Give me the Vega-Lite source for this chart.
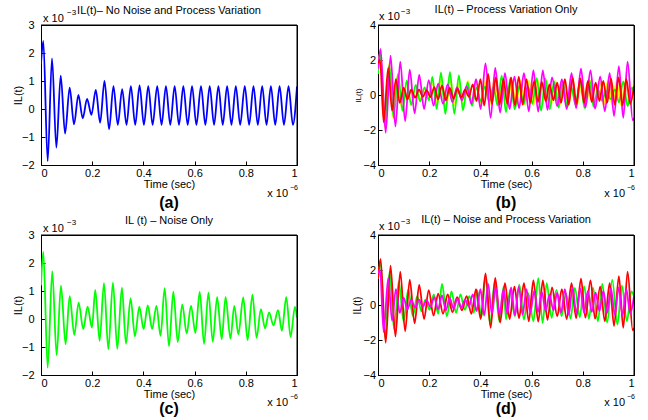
{
"$schema":"https://vega.github.io/schema/vega-lite/v6.json",
"background":"white",
"padding":{"left":11,"top":3,"right":4,"bottom":4},
"config":{
 "font":"Liberation Sans",
 "view":{"stroke":"black","strokeWidth":1},
 "axis":{"grid":false,"labelFont":"Liberation Sans","labelFontSize":11,"labelColor":"black","titleFont":"Liberation Sans","titleFontSize":11,"titleFontWeight":"normal","titleColor":"black","tickColor":"black","tickSize":-4,"tickWidth":1,"domainColor":"black","labelPadding":6,"titlePadding":0,"format":"~g"},
 "title":{"font":"Liberation Sans","fontSize":11,"fontWeight":"normal","color":"black","anchor":"middle","frame":"group","offset":-7},
 "text":{"font":"Liberation Sans","color":"black"}
},
"datasets":{
 "a":[{"t":0,"y":1.6},{"t":0.009,"y":2.43},{"t":0.026,"y":-1.86},{"t":0.043,"y":1.81},{"t":0.06,"y":-1.38},{"t":0.077,"y":1.19},{"t":0.094,"y":-0.88},{"t":0.112,"y":0.76},{"t":0.129,"y":-0.55},{"t":0.146,"y":0.5},{"t":0.163,"y":-0.33},{"t":0.18,"y":0.36},{"t":0.197,"y":-0.21},{"t":0.214,"y":0.68},{"t":0.231,"y":-0.49},{"t":0.248,"y":1.0},{"t":0.266,"y":-0.72},{"t":0.283,"y":0.82},{"t":0.3,"y":-0.57},{"t":0.317,"y":0.71},{"t":0.334,"y":-0.57},{"t":0.351,"y":0.82},{"t":0.368,"y":-0.57},{"t":0.385,"y":0.84},{"t":0.402,"y":-0.57},{"t":0.419,"y":0.82},{"t":0.436,"y":-0.57},{"t":0.454,"y":0.82},{"t":0.471,"y":-0.57},{"t":0.488,"y":0.82},{"t":0.505,"y":-0.57},{"t":0.522,"y":0.82},{"t":0.539,"y":-0.57},{"t":0.556,"y":0.82},{"t":0.573,"y":-0.57},{"t":0.59,"y":0.82},{"t":0.607,"y":-0.57},{"t":0.625,"y":0.82},{"t":0.642,"y":-0.57},{"t":0.659,"y":0.82},{"t":0.676,"y":-0.57},{"t":0.693,"y":0.82},{"t":0.71,"y":-0.57},{"t":0.727,"y":0.82},{"t":0.744,"y":-0.57},{"t":0.761,"y":0.82},{"t":0.778,"y":-0.57},{"t":0.796,"y":0.82},{"t":0.813,"y":-0.57},{"t":0.83,"y":0.82},{"t":0.847,"y":-0.57},{"t":0.864,"y":0.82},{"t":0.881,"y":-0.57},{"t":0.898,"y":0.82},{"t":0.915,"y":-0.57},{"t":0.932,"y":0.82},{"t":0.949,"y":-0.57},{"t":0.967,"y":0.82},{"t":0.984,"y":-0.57},{"t":1.0,"y":0.8}],
 "c":[{"t":0,"y":1.2},{"t":0.009,"y":2.4},{"t":0.026,"y":-1.74},{"t":0.044,"y":1.71},{"t":0.061,"y":-1.29},{"t":0.078,"y":1.19},{"t":0.096,"y":-0.9},{"t":0.112,"y":0.82},{"t":0.13,"y":-0.57},{"t":0.147,"y":0.58},{"t":0.165,"y":-0.36},{"t":0.182,"y":0.44},{"t":0.199,"y":-0.31},{"t":0.212,"y":1.04},{"t":0.229,"y":-0.78},{"t":0.246,"y":1.28},{"t":0.263,"y":-1.08},{"t":0.281,"y":1.3},{"t":0.298,"y":-1.07},{"t":0.316,"y":1.12},{"t":0.332,"y":-0.88},{"t":0.35,"y":0.74},{"t":0.367,"y":-0.62},{"t":0.384,"y":0.44},{"t":0.401,"y":-0.36},{"t":0.417,"y":0.49},{"t":0.434,"y":-0.36},{"t":0.451,"y":0.47},{"t":0.467,"y":-0.6},{"t":0.483,"y":1.1},{"t":0.5,"y":-0.97},{"t":0.517,"y":0.98},{"t":0.534,"y":-0.82},{"t":0.552,"y":0.52},{"t":0.569,"y":-0.52},{"t":0.586,"y":0.48},{"t":0.603,"y":-0.5},{"t":0.62,"y":0.97},{"t":0.637,"y":-0.89},{"t":0.654,"y":0.94},{"t":0.671,"y":-0.82},{"t":0.688,"y":0.78},{"t":0.706,"y":-0.72},{"t":0.721,"y":0.78},{"t":0.74,"y":-0.7},{"t":0.755,"y":0.47},{"t":0.771,"y":-0.55},{"t":0.79,"y":0.77},{"t":0.807,"y":-0.75},{"t":0.826,"y":0.87},{"t":0.842,"y":-0.67},{"t":0.859,"y":0.35},{"t":0.875,"y":-0.33},{"t":0.891,"y":0.24},{"t":0.908,"y":-0.23},{"t":0.926,"y":0.32},{"t":0.941,"y":-0.42},{"t":0.958,"y":0.78},{"t":0.975,"y":-0.64},{"t":0.992,"y":0.43},{"t":1.0,"y":0.05}],
 "sA":[{"t":0,"y":1.5},{"t":0.01,"y":2.63},{"t":0.03,"y":-2.16},{"t":0.049,"y":2.25},{"t":0.068,"y":-1.8},{"t":0.087,"y":1.9},{"t":0.106,"y":-1.5},{"t":0.124,"y":1.45},{"t":0.143,"y":-1.05},{"t":0.161,"y":1.15},{"t":0.18,"y":-0.8},{"t":0.198,"y":0.85},{"t":0.217,"y":-0.6},{"t":0.235,"y":0.65},{"t":0.254,"y":-0.5},{"t":0.272,"y":0.6},{"t":0.291,"y":-0.4},{"t":0.309,"y":0.45},{"t":0.328,"y":-0.3},{"t":0.346,"y":0.5},{"t":0.365,"y":-0.5},{"t":0.383,"y":0.9},{"t":0.401,"y":-0.8},{"t":0.42,"y":1.8},{"t":0.44,"y":-1.3},{"t":0.458,"y":1.55},{"t":0.477,"y":-1.0},{"t":0.496,"y":1.25},{"t":0.514,"y":-0.8},{"t":0.533,"y":1.05},{"t":0.551,"y":-0.75},{"t":0.57,"y":1.25},{"t":0.589,"y":-0.93},{"t":0.607,"y":1.4},{"t":0.626,"y":-0.95},{"t":0.644,"y":1.4},{"t":0.662,"y":-0.85},{"t":0.68,"y":1.0},{"t":0.7,"y":-0.65},{"t":0.718,"y":0.9},{"t":0.737,"y":-0.8},{"t":0.756,"y":1.25},{"t":0.774,"y":-0.75},{"t":0.793,"y":1.5},{"t":0.81,"y":-0.72},{"t":0.83,"y":1.4},{"t":0.848,"y":-0.78},{"t":0.868,"y":1.05},{"t":0.886,"y":-0.93},{"t":0.905,"y":1.25},{"t":0.922,"y":-1.2},{"t":0.941,"y":1.65},{"t":0.958,"y":-1.3},{"t":0.975,"y":1.9},{"t":0.995,"y":-1.45},{"t":1.0,"y":-1.3}],
 "sB":[{"t":0,"y":1.8},{"t":0.008,"y":2.0},{"t":0.022,"y":-1.55},{"t":0.04,"y":1.55},{"t":0.055,"y":-0.9},{"t":0.07,"y":0.9},{"t":0.085,"y":-0.45},{"t":0.1,"y":0.42},{"t":0.115,"y":-0.25},{"t":0.13,"y":0.3},{"t":0.145,"y":-0.15},{"t":0.16,"y":0.3},{"t":0.175,"y":-0.1},{"t":0.19,"y":0.28},{"t":0.205,"y":-0.12},{"t":0.22,"y":0.45},{"t":0.235,"y":-0.25},{"t":0.25,"y":0.55},{"t":0.265,"y":-0.3},{"t":0.28,"y":0.4},{"t":0.295,"y":-0.2},{"t":0.31,"y":0.35},{"t":0.325,"y":-0.15},{"t":0.34,"y":0.3},{"t":0.355,"y":-0.1},{"t":0.37,"y":0.6},{"t":0.385,"y":-0.35},{"t":0.4,"y":0.9},{"t":0.415,"y":-0.6},{"t":0.43,"y":1.2},{"t":0.445,"y":-0.5},{"t":0.46,"y":1.0},{"t":0.475,"y":-0.55},{"t":0.49,"y":0.9},{"t":0.505,"y":-0.5},{"t":0.52,"y":1.0},{"t":0.535,"y":-0.6},{"t":0.55,"y":1.05},{"t":0.565,"y":-0.55},{"t":0.58,"y":0.9},{"t":0.595,"y":-0.45},{"t":0.61,"y":0.8},{"t":0.625,"y":-0.4},{"t":0.64,"y":0.75},{"t":0.655,"y":-0.35},{"t":0.67,"y":0.6},{"t":0.685,"y":-0.3},{"t":0.7,"y":0.7},{"t":0.715,"y":-0.45},{"t":0.73,"y":0.9},{"t":0.745,"y":-0.55},{"t":0.76,"y":1.0},{"t":0.775,"y":-0.5},{"t":0.79,"y":0.95},{"t":0.805,"y":-0.45},{"t":0.82,"y":0.8},{"t":0.835,"y":-0.4},{"t":0.85,"y":0.7},{"t":0.865,"y":-0.35},{"t":0.88,"y":0.8},{"t":0.895,"y":-0.45},{"t":0.91,"y":0.95},{"t":0.925,"y":-0.55},{"t":0.94,"y":1.0},{"t":0.955,"y":-0.6},{"t":0.97,"y":0.9},{"t":0.985,"y":-0.5},{"t":1.0,"y":0.5}],
 "g2":[{"t":0,"y":1.5},{"t":0.01,"y":2.4},{"t":0.028,"y":-1.88},{"t":0.045,"y":1.9},{"t":0.063,"y":-1.4},{"t":0.081,"y":1.35},{"t":0.1,"y":-0.93},{"t":0.118,"y":0.87},{"t":0.136,"y":-0.64},{"t":0.153,"y":0.5},{"t":0.17,"y":-0.36},{"t":0.185,"y":0.3},{"t":0.201,"y":-0.27},{"t":0.218,"y":0.6},{"t":0.235,"y":-0.5},{"t":0.25,"y":1.2},{"t":0.269,"y":-0.64},{"t":0.287,"y":0.78},{"t":0.305,"y":-0.45},{"t":0.322,"y":0.6},{"t":0.339,"y":-0.27},{"t":0.357,"y":0.5},{"t":0.374,"y":-0.45},{"t":0.387,"y":0.87},{"t":0.404,"y":-0.7},{"t":0.42,"y":1.63},{"t":0.438,"y":-1.12},{"t":0.456,"y":1.35},{"t":0.474,"y":-0.93},{"t":0.491,"y":1.06},{"t":0.5,"y":-0.83},{"t":0.516,"y":0.87},{"t":0.534,"y":-0.64},{"t":0.552,"y":1.16},{"t":0.57,"y":-0.83},{"t":0.587,"y":0.68},{"t":0.607,"y":-0.93},{"t":0.626,"y":1.54},{"t":0.643,"y":-1.02},{"t":0.659,"y":1.25},{"t":0.678,"y":-0.74},{"t":0.697,"y":0.87},{"t":0.717,"y":-0.64},{"t":0.734,"y":0.68},{"t":0.752,"y":-0.78},{"t":0.769,"y":0.97},{"t":0.788,"y":-0.7},{"t":0.805,"y":1.06},{"t":0.824,"y":-0.78},{"t":0.84,"y":0.97},{"t":0.859,"y":-0.93},{"t":0.876,"y":1.2},{"t":0.895,"y":-1.0},{"t":0.915,"y":1.44},{"t":0.935,"y":-1.12},{"t":0.953,"y":1.1},{"t":0.972,"y":-0.93},{"t":0.99,"y":0.78},{"t":1.0,"y":0.5}]
},
"columns":2,
"spacing":{"row":70,"column":81},
"bounds":"flush",
"concat":[
  {"width":256,"height":140,
   "title":{"text":"IL(t)– No Noise and Process Variation"},
   "encoding":{"x":{"field":"t","type":"quantitative","scale":{"domain":[0,1],"nice":false,"zero":false},"axis":{"title":"Time (sec)","values":[0,0.2,0.4,0.6,0.8,1]}},
               "y":{"field":"y","type":"quantitative","scale":{"domain":[-2,3],"nice":false,"zero":false},"axis":{"title":"IL(t)","values":[-2,-1,0,1,2,3],"labelPadding":11,"titlePadding":-2}}},
   "layer":[
    {"data":{"name":"a"},"mark":{"type":"line","color":"#0000ff","strokeWidth":1.8,"interpolate":"monotone","clip":true}},
    {"data":{"values":[{"t":0,"y":3,"t2":1,"y2":3},{"t":1,"y":-2,"t2":1,"y2":3}]},"mark":{"type":"rule","color":"black","strokeWidth":1},"encoding":{"x2":{"field":"t2"},"y2":{"field":"y2"}}},
    {"data":{"values":[{"t":0,"y":3}]},"mark":{"type":"text","text":"x 10","align":"left","baseline":"alphabetic","dx":2,"dy":-3,"fontSize":11}},
    {"data":{"values":[{"t":0,"y":3}]},"mark":{"type":"text","text":"−3","align":"left","baseline":"alphabetic","dx":26,"dy":-10,"fontSize":8}},
    {"data":{"values":[{"t":1,"y":-2}]},"mark":{"type":"text","text":"x 10","align":"right","baseline":"alphabetic","dx":-9,"dy":32,"fontSize":11}},
    {"data":{"values":[{"t":1,"y":-2}]},"mark":{"type":"text","text":"−6","align":"right","baseline":"alphabetic","dx":1,"dy":25,"fontSize":7}},
    {"data":{"values":[{"t":0.5,"y":-2}]},"mark":{"type":"text","text":"(a)","align":"center","baseline":"alphabetic","dy":43,"fontSize":16,"fontWeight":"bold"}}
   ]},
  {"width":256,"height":140,
   "title":{"text":"IL(t) – Process Variation Only"},
   "encoding":{"x":{"field":"t","type":"quantitative","scale":{"domain":[0,1],"nice":false,"zero":false},"axis":{"title":"Time (sec)","values":[0,0.2,0.4,0.6,0.8,1]}},
               "y":{"field":"y","type":"quantitative","scale":{"domain":[-4,4],"nice":false,"zero":false},"axis":{"title":"IL(t)","titleFontSize":8,"values":[-4,-2,0,2,4],"labelPadding":6.5}}},
   "layer":[
    {"data":{"name":"a"},"mark":{"type":"line","color":"#ffff00","strokeWidth":1.8,"interpolate":"monotone","clip":true}},
    {"data":{"name":"c"},"mark":{"type":"line","color":"#00ff00","strokeWidth":1.8,"interpolate":"monotone","clip":true}},
    {"data":{"name":"sA"},"mark":{"type":"line","color":"#ff00ff","strokeWidth":1.8,"interpolate":"monotone","clip":true}},
    {"data":{"name":"sB"},"mark":{"type":"line","color":"#ff0000","strokeWidth":1.8,"interpolate":"monotone","clip":true}},
    {"data":{"values":[{"t":0,"y":4,"t2":1,"y2":4},{"t":1,"y":-4,"t2":1,"y2":4}]},"mark":{"type":"rule","color":"black","strokeWidth":1},"encoding":{"x2":{"field":"t2"},"y2":{"field":"y2"}}},
    {"data":{"values":[{"t":0,"y":4}]},"mark":{"type":"text","text":"x 10","align":"left","baseline":"alphabetic","dx":1,"dy":-5,"fontSize":11}},
    {"data":{"values":[{"t":0,"y":4}]},"mark":{"type":"text","text":"−3","align":"left","baseline":"alphabetic","dx":23,"dy":-11,"fontSize":8}},
    {"data":{"values":[{"t":1,"y":-4}]},"mark":{"type":"text","text":"x 10","align":"right","baseline":"alphabetic","dx":-9,"dy":32,"fontSize":11}},
    {"data":{"values":[{"t":1,"y":-4}]},"mark":{"type":"text","text":"−6","align":"right","baseline":"alphabetic","dx":1,"dy":25,"fontSize":7}},
    {"data":{"values":[{"t":0.5,"y":-4}]},"mark":{"type":"text","text":"(b)","align":"center","baseline":"alphabetic","dy":43,"fontSize":16,"fontWeight":"bold"}}
   ]},
  {"width":256,"height":140,
   "title":{"text":"IL (t) – Noise Only"},
   "encoding":{"x":{"field":"t","type":"quantitative","scale":{"domain":[0,1],"nice":false,"zero":false},"axis":{"title":"Time (sec)","values":[0,0.2,0.4,0.6,0.8,1]}},
               "y":{"field":"y","type":"quantitative","scale":{"domain":[-2,3],"nice":false,"zero":false},"axis":{"title":"IL(t)","values":[-2,-1,0,1,2,3],"labelPadding":11,"titlePadding":-2}}},
   "layer":[
    {"data":{"name":"c"},"mark":{"type":"line","color":"#00ff00","strokeWidth":1.8,"interpolate":"monotone","clip":true}},
    {"data":{"values":[{"t":0,"y":3,"t2":1,"y2":3},{"t":1,"y":-2,"t2":1,"y2":3}]},"mark":{"type":"rule","color":"black","strokeWidth":1},"encoding":{"x2":{"field":"t2"},"y2":{"field":"y2"}}},
    {"data":{"values":[{"t":0,"y":3}]},"mark":{"type":"text","text":"x 10","align":"left","baseline":"alphabetic","dx":2,"dy":-3,"fontSize":11}},
    {"data":{"values":[{"t":0,"y":3}]},"mark":{"type":"text","text":"−3","align":"left","baseline":"alphabetic","dx":26,"dy":-10,"fontSize":8}},
    {"data":{"values":[{"t":1,"y":-2}]},"mark":{"type":"text","text":"x 10","align":"right","baseline":"alphabetic","dx":-9,"dy":31,"fontSize":11}},
    {"data":{"values":[{"t":1,"y":-2}]},"mark":{"type":"text","text":"−6","align":"right","baseline":"alphabetic","dx":1,"dy":24,"fontSize":7}},
    {"data":{"values":[{"t":0.5,"y":-2}]},"mark":{"type":"text","text":"(c)","align":"center","baseline":"alphabetic","dy":39,"fontSize":16,"fontWeight":"bold"}}
   ]},
  {"width":256,"height":140,
   "title":{"text":"IL(t) – Noise and Process Variation"},
   "encoding":{"x":{"field":"t","type":"quantitative","scale":{"domain":[0,1],"nice":false,"zero":false},"axis":{"title":"Time (sec)","values":[0,0.2,0.4,0.6,0.8,1]}},
               "y":{"field":"y","type":"quantitative","scale":{"domain":[-4,4],"nice":false,"zero":false},"axis":{"title":"IL(t)","titleFontSize":10,"values":[-4,-2,0,2,4],"labelPadding":6.5}}},
   "layer":[
    {"data":{"name":"g2"},"mark":{"type":"line","color":"#00ff00","strokeWidth":1.8,"interpolate":"monotone","clip":true}},
    {"data":{"name":"sA"},"mark":{"type":"line","color":"#ff0000","strokeWidth":1.8,"interpolate":"monotone","clip":true}},
    {"data":{"name":"sB"},"mark":{"type":"line","color":"#ff00ff","strokeWidth":1.8,"interpolate":"monotone","clip":true}},
    {"data":{"values":[{"t":0,"y":4,"t2":1,"y2":4},{"t":1,"y":-4,"t2":1,"y2":4}]},"mark":{"type":"rule","color":"black","strokeWidth":1},"encoding":{"x2":{"field":"t2"},"y2":{"field":"y2"}}},
    {"data":{"values":[{"t":0,"y":4}]},"mark":{"type":"text","text":"x 10","align":"left","baseline":"alphabetic","dx":1,"dy":-5,"fontSize":11}},
    {"data":{"values":[{"t":0,"y":4}]},"mark":{"type":"text","text":"−3","align":"left","baseline":"alphabetic","dx":23,"dy":-11,"fontSize":8}},
    {"data":{"values":[{"t":1,"y":-4}]},"mark":{"type":"text","text":"x 10","align":"right","baseline":"alphabetic","dx":-9,"dy":31,"fontSize":11}},
    {"data":{"values":[{"t":1,"y":-4}]},"mark":{"type":"text","text":"−6","align":"right","baseline":"alphabetic","dx":1,"dy":24,"fontSize":7}},
    {"data":{"values":[{"t":0.5,"y":-4}]},"mark":{"type":"text","text":"(d)","align":"center","baseline":"alphabetic","dy":39,"fontSize":16,"fontWeight":"bold"}}
   ]}
]
}
